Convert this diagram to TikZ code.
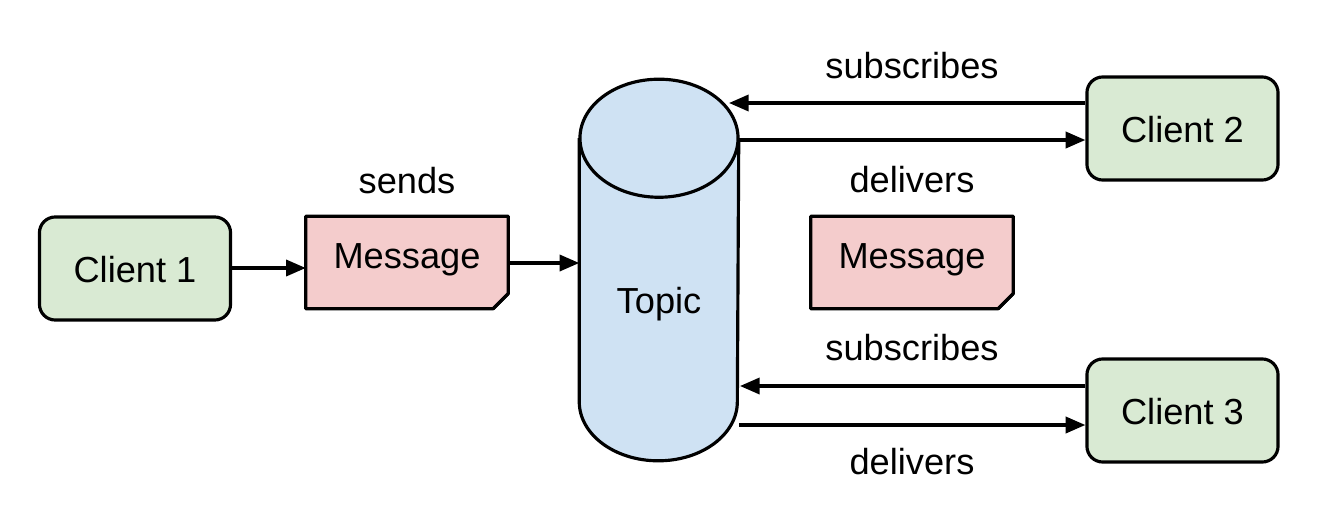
\documentclass[tikz,border=0pt]{standalone}
\usepackage{fontspec}
\setmainfont{Liberation Sans}
\usetikzlibrary{arrows.meta}
\definecolor{cgreen}{HTML}{D9EAD3}
\definecolor{cpink}{HTML}{F4CCCC}
\definecolor{cblue}{HTML}{CFE2F3}
\tikzset{
  client/.style={draw=black, line width=0.9pt, fill=cgreen, rounded corners=4.5pt,
    minimum width=1.91cm, minimum height=1.03cm, inner sep=0pt},
  msg/.style={minimum width=2.01cm, minimum height=0.91cm, inner sep=0pt},
  lbl/.style={font=\fontsize{10.3pt}{12pt}\selectfont, inner sep=0pt, anchor=base},
  arr/.style={line width=0.9pt, -{Triangle[length=5.6pt, width=4.6pt]}},
  border/.style={draw=black, line width=0.9pt}
}
\begin{document}
\begin{tikzpicture}[x=0.01cm, y=-0.01cm]
\useasboundingbox (0,0) rectangle (1320,527);
% clients
\node[client] (c1) at (135,268.5) {};
\node[client] (c2) at (1182.5,128.5) {};
\node[client] (c3) at (1182.5,410.5) {};
\node[lbl] (c1t) at (135,282) {Client 1};
\node[lbl] (c2t) at (1182.5,142) {Client 2};
\node[lbl] (c3t) at (1182.5,424) {Client 3};
% messages with folded corner
\node[msg] (m1) at (407,262.5) {};
\node[msg] (m2) at (912,262.5) {};
\foreach \m in {m1,m2}{
  \draw[border, fill=cpink, line join=round] (\m.north west) -- (\m.north east) -- ([yshift=4.3pt]\m.south east)
     -- ([xshift=-4.3pt]\m.south east) -- (\m.south west) -- cycle;
  \draw[border, fill=gray!60, line join=round] ([yshift=4.3pt]\m.south east) -- ([xshift=-4.3pt]\m.south east)
     -- ([xshift=-1.2pt, yshift=3.1pt]\m.south east) -- cycle;
}
\node[lbl] (m1t) at (407,268) {Message};
\node[lbl] (m2t) at (912,268) {Message};
% topic cylinder
\node[minimum width=1.58cm, minimum height=2.62cm, inner sep=0pt] (topic) at (659,270) {};
\fill[cblue] (topic.north west) -- (topic.south west)
   arc[start angle=180, end angle=360, x radius=0.79cm, y radius=0.59cm]
   -- (topic.north east) -- cycle;
\draw[border] (topic.north west) -- (topic.south west)
   arc[start angle=180, end angle=360, x radius=0.79cm, y radius=0.59cm]
   -- (topic.north east);
\draw[border, fill=cblue] (topic.north) ellipse [x radius=0.79cm, y radius=0.59cm];
\node[lbl] (tt) at (659,313) {Topic};
% connector end points on the cylinder
\coordinate (s2) at (729,103);
\coordinate (d2) at (739,140);
\coordinate (s3) at (740,386);
\coordinate (d3) at (739,425);
% arrows
\draw[arr] (c1.east |- 0,268) -- (m1.west |- 0,268);
\draw[arr] (m1.east |- 0,263) -- (topic.west |- 0,263);
\draw[arr] (c2.west |- s2) -- (s2);
\draw[arr] (d2) -- (d2 -| c2.west);
\draw[arr] (c3.west |- s3) -- (s3);
\draw[arr] (d3) -- (d3 -| c3.west);
% labels
\node[lbl] (ls) at (407,193) {sends};
\node[lbl] (ls2) at (912,78) {subscribes};
\node[lbl] (ld2) at (912,192) {delivers};
\node[lbl] (ls3) at (912,360) {subscribes};
\node[lbl] (ld3) at (912,474) {delivers};
\end{tikzpicture}
\end{document}
